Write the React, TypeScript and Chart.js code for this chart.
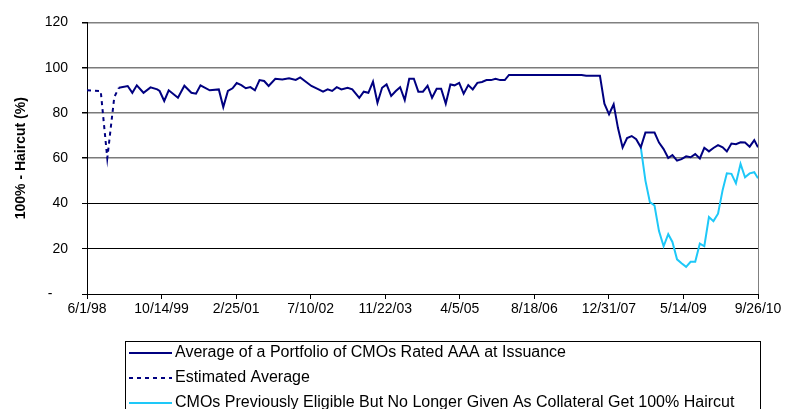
import React, { useEffect, useRef } from "react";
import { Chart, registerables } from "chart.js";

Chart.register(...registerables);

const xTickLabels = ["6/1/98", "10/14/99", "2/25/01", "7/10/02", "11/22/03", "4/5/05", "8/18/06", "12/31/07", "5/14/09", "9/26/10"];
const yTickLabels = ["-    ", "20", "40", "60", "80", "100", "120"];

const seriesNames = [
  "Average of a Portfolio of CMOs Rated AAA at Issuance",
  "Estimated Average",
  "CMOs Previously Eligible But No Longer Given As Collateral Get 100% Haircut",
];

const avgDates = [
  "1999-01", "1999-03", "1999-04", "1999-05", "1999-06-15", "1999-08", "1999-09-15", "1999-10", "1999-11", "1999-12",
  "2000-02", "2000-03-15", "2000-05", "2000-06", "2000-07", "2000-09", "2000-11", "2000-12",
  "2001-01", "2001-02", "2001-03", "2001-04", "2001-05", "2001-06", "2001-07", "2001-08", "2001-09", "2001-10", "2001-11-15",
  "2002-01", "2002-02-15", "2002-04", "2002-05", "2002-06", "2002-07-15", "2002-09", "2002-10", "2002-11", "2002-12",
  "2003-01", "2003-02", "2003-03-15", "2003-04-15", "2003-06", "2003-07", "2003-08", "2003-09", "2003-10", "2003-11", "2003-12",
  "2004-01", "2004-02", "2004-03", "2004-04", "2004-05", "2004-06", "2004-07", "2004-08", "2004-09", "2004-10", "2004-11", "2004-12",
  "2005-01", "2005-02", "2005-03", "2005-04", "2005-05", "2005-06", "2005-07", "2005-08", "2005-09", "2005-10", "2005-11", "2005-12",
  "2006-01", "2006-02", "2006-03",
  "2007-07", "2007-08", "2007-11", "2007-12",
  "2008-01", "2008-02", "2008-03", "2008-04", "2008-05", "2008-06", "2008-07", "2008-08", "2008-09", "2008-11", "2008-12",
  "2009-01", "2009-02", "2009-03", "2009-04", "2009-05", "2009-06", "2009-07", "2009-08", "2009-09", "2009-10", "2009-11", "2009-12",
  "2010-01", "2010-02", "2010-03", "2010-04", "2010-05", "2010-06", "2010-07", "2010-08", "2010-09", "2010-09-26",
];
const avgValues = [
  91.1, 91.9, 88.9, 92.2, 88.9, 91.3, 90.4, 89.7, 85.3, 90.0,
  86.7, 92.0, 88.9, 88.5, 92.2, 90.0, 90.4, 82.6,
  89.7, 90.9, 93.2, 92.3, 90.9, 91.4, 90.0, 94.5, 94.1, 91.9, 95.1,
  94.8, 95.3, 94.6, 95.7, 94.1, 91.9, 90.4, 89.4, 90.4, 89.7,
  91.4, 90.4, 91.1, 90.4, 86.7, 89.4, 88.9, 93.8, 84.5, 91.1, 92.6,
  87.5, 89.7, 91.4, 85.7, 95.1, 95.1, 89.4, 89.4, 92.0, 86.7, 90.7, 90.7,
  84.1, 92.6, 92.2, 93.3, 88.5, 92.3, 90.4, 93.3, 93.7, 94.5, 94.5, 95.1,
  94.5, 94.5, 96.8,
  96.8, 96.4, 96.4, 84.1,
  79.4, 83.8, 73.3, 64.7, 68.9, 69.8, 68.4, 64.8, 71.3, 71.3, 66.9,
  64.0, 60.1, 61.4, 58.9, 59.6, 60.8, 60.4, 61.8, 59.9, 64.6, 63.0, 64.5,
  65.8, 64.8, 63.0, 66.5, 66.2, 67.0, 66.9, 65.1, 68.0, 64.8,
];

const estDates = ["1998-06-01", "1998-09-01", "1998-10-15", "1998-12-01", "1999-01"];
const estValues = [90, 89.7, 60, 87, 91.1];

const noLongerDates = [
  "2008-08", "2008-09", "2008-10", "2008-11", "2008-12",
  "2009-01", "2009-02", "2009-03", "2009-04", "2009-05", "2009-06", "2009-07", "2009-08", "2009-09", "2009-10", "2009-11", "2009-12",
  "2010-01", "2010-02", "2010-03", "2010-04", "2010-05", "2010-06", "2010-07", "2010-08", "2010-09", "2010-09-26",
];
const noLongerValues = [
  64.8, 50.1, 40.6, 39.1, 27.8,
  21.1, 26.4, 23.0, 15.3, 13.6, 12.0, 14.2, 14.2, 22.3, 21.1, 34.0, 32.2,
  35.5, 46.0, 53.3, 53.1, 48.9, 57.5, 51.6, 53.3, 53.8, 51.1,
];

const START = Date.UTC(1998, 5, 1);
const DAY = 86400000;
function dayOffset(s: string): number {
  const p = s.split("-").map(Number);
  return Math.round((Date.UTC(p[0], p[1] - 1, p[2] || 1) - START) / DAY);
}
function toPoints(dates: string[], values: number[]) {
  return dates.map((d, i) => ({ x: dayOffset(d), y: values[i] }));
}

const FONT = '"Liberation Sans", Arial, sans-serif';

const boxLegend = {
  id: "boxLegend",
  afterDraw(chart: any) {
    const ctx = chart.ctx;
    ctx.save();
    ctx.strokeStyle = "#000";
    ctx.lineWidth = 1;
    ctx.setLineDash([]);
    ctx.strokeRect(125.5, 341.5, 635, 100);
    const rows = [353, 378, 403];
    chart.data.datasets.forEach((ds: any, i: number) => {
      const y = rows[i];
      ctx.beginPath();
      ctx.setLineDash(ds.borderDash || []);
      ctx.strokeStyle = ds.borderColor;
      ctx.lineWidth = 2;
      ctx.moveTo(129, y);
      ctx.lineTo(172, y);
      ctx.stroke();
      ctx.setLineDash([]);
      ctx.fillStyle = "#000";
      ctx.font = "16px " + FONT;
      ctx.textBaseline = "middle";
      ctx.textAlign = "left";
      ctx.fillText(ds.label, 175, y);
    });
    ctx.restore();
  },
};

export default function App() {
  const ref = useRef<HTMLCanvasElement | null>(null);
  useEffect(() => {
    if (!ref.current) return;
    const chart = new Chart(ref.current, {
      type: "line",
      data: {
        datasets: [
          {
            label: seriesNames[0],
            data: toPoints(avgDates, avgValues),
            borderColor: "#000080",
            borderWidth: 2,
            pointRadius: 0,
            tension: 0,
          },
          {
            label: seriesNames[1],
            data: toPoints(estDates, estValues),
            borderColor: "#000080",
            borderWidth: 2,
            borderDash: [4, 4],
            pointRadius: 0,
            tension: 0,
          },
          {
            label: seriesNames[2],
            data: toPoints(noLongerDates, noLongerValues),
            borderColor: "#1ec8f8",
            borderWidth: 2,
            pointRadius: 0,
            tension: 0,
          },
        ],
      },
      options: {
        responsive: false,
        animation: false,
        layout: { padding: { left: 0, top: 21, right: 27, bottom: 0 } },
        plugins: { legend: { display: false }, tooltip: { enabled: false }, title: { display: false } },
        scales: {
          x: {
            type: "linear",
            min: 0,
            max: 4500,
            afterFit: (s: any) => { s.height = 115; },
            ticks: {
              stepSize: 500,
              autoSkip: false,
              maxRotation: 0,
              padding: 2,
              color: "#000",
              font: { size: 14, family: FONT },
              callback: (v: any) => xTickLabels[Math.round(Number(v) / 500)],
            },
            grid: {
              drawOnChartArea: true,
              color: (c: any) => (c.index === xTickLabels.length - 1 ? "#808080" : "rgba(0,0,0,0)"),
              lineWidth: 1,
              tickColor: "#000",
              tickLength: 5,
            },
            border: { color: "#000", width: 1 },
          },
          y: {
            min: 0,
            max: 120,
            afterFit: (s: any) => { s.width = 87; },
            ticks: {
              stepSize: 20,
              padding: 14,
              color: "#000",
              font: { size: 14, family: FONT },
              callback: (v: any) => yTickLabels[Math.round(Number(v) / 20)],
            },
            grid: {
              color: (c: any) => {
                const v = c.tick ? c.tick.value : 0;
                if (v === 120) return "#808080";
                if (v >= 60 && v <= 100) return "#7a7a7a";
                return "#000";
              },
              lineWidth: (c: any) => {
                const v = c.tick ? c.tick.value : 0;
                return v >= 60 ? 1.5 : 1;
              },
              tickColor: "#000",
              tickLength: 5,
            },
            border: { color: "#000", width: 1 },
            title: {
              display: true,
              text: "100% - Haircut (%)",
              color: "#000",
              font: { size: 14, weight: "bold", family: FONT },
              padding: { top: 13, bottom: 0 },
            },
          },
        },
      },
      plugins: [boxLegend],
    } as any);
    return () => chart.destroy();
  }, []);
  return (
    <div style={{ position: "absolute", left: 0, top: 0, width: 785, height: 409 }}>
      <canvas ref={ref} width={785} height={409} style={{ display: "block" }} />
    </div>
  );
}
